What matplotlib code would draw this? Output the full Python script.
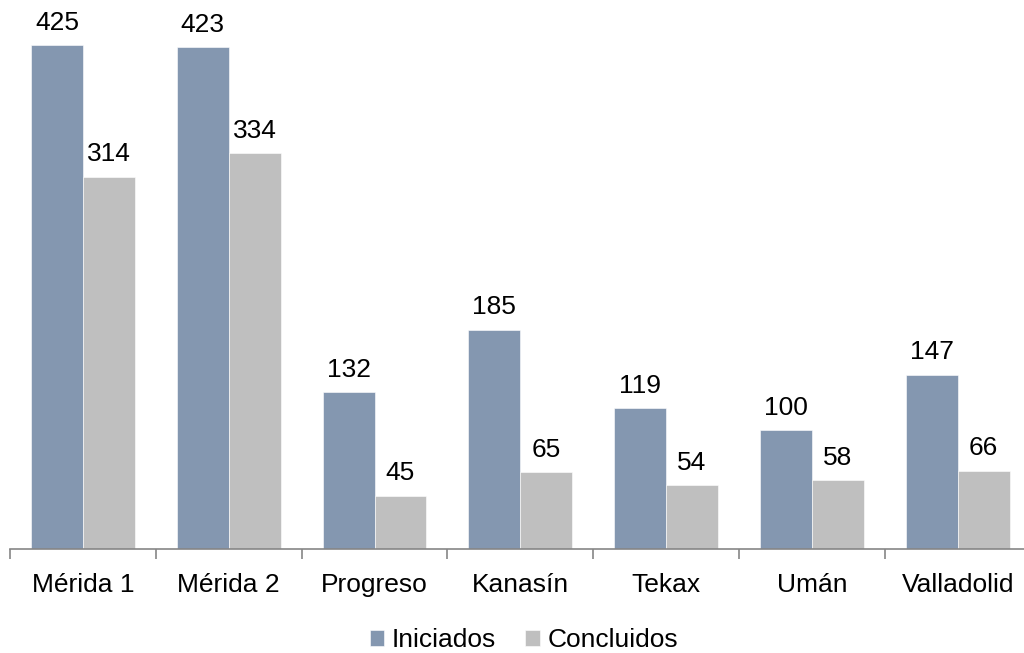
import numpy as np
import matplotlib.pyplot as plt

plt.rcParams['font.family'] = ['Liberation Sans', 'DejaVu Sans']

categories = ['Mérida 1', 'Mérida 2', 'Progreso', 'Kanasín', 'Tekax', 'Umán', 'Valladolid']
iniciados = [425, 423, 132, 185, 119, 100, 147]
concluidos = [314, 334, 45, 65, 54, 58, 66]

col_ini = '#8497B0'
col_con = '#BFBFBF'
fs = 19

fig = plt.figure(figsize=(10.24, 6.53), dpi=100)
ax = fig.add_axes([10 / 1024, 104 / 653, 7 * 145.8 / 1024, 549 / 653])

x = np.arange(len(categories))
w = 0.356
b1 = ax.bar(x - w / 2, iniciados, w, color=col_ini, edgecolor='white', linewidth=0.4, label='Iniciados')
b2 = ax.bar(x + w / 2, concluidos, w, color=col_con, edgecolor='white', linewidth=0.4, label='Concluidos')

for bars, vals in [(b1, iniciados), (b2, concluidos)]:
    for r, v in zip(bars, vals):
        ax.annotate(str(v), (r.get_x() + r.get_width() / 2, v), xytext=(0, 11),
                    textcoords='offset points', ha='center', va='baseline', fontsize=fs)

ax.set_xlim(-0.5, len(categories) - 0.5)
ax.set_ylim(0, 463)

for s in ['top', 'right', 'left']:
    ax.spines[s].set_visible(False)
ax.spines['bottom'].set_color('#868686')
ax.spines['bottom'].set_linewidth(1.2)
ax.set_yticks([])

ax.set_xticks(x)
ax.set_xticklabels(categories, fontsize=fs)
ax.tick_params(axis='x', which='major', length=0, pad=17)
ax.set_xticks(np.arange(len(categories) + 1) - 0.5, minor=True)
ax.tick_params(axis='x', which='minor', length=7, color='#868686', width=1.2)

fig.legend(loc='center', bbox_to_anchor=(524 / 1024, 1 - 640 / 653), ncol=2, frameon=False,
           fontsize=fs, handlelength=0.55, handleheight=0.55, handletextpad=0.3, columnspacing=1.1)

fig.savefig('out.png', dpi=100)
